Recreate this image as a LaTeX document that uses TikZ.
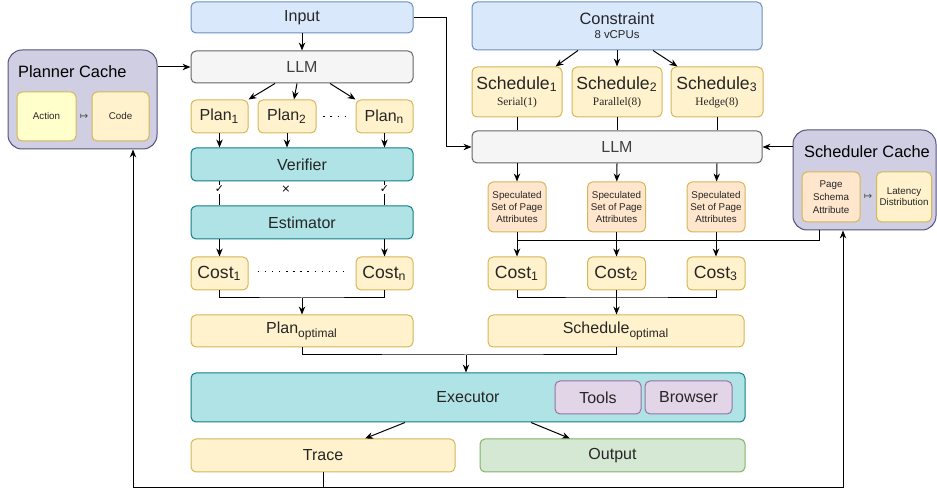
\documentclass[tikz,border=0pt]{standalone}
\usepackage{fontspec}
\setmainfont{Liberation Sans}
\newfontfamily\serfont{Liberation Serif}
\newfontfamily\symfont{DejaVu Sans}
\usetikzlibrary{positioning,arrows.meta}

\definecolor{blueF}{HTML}{DAE8FC}
\definecolor{blueD}{HTML}{6C8EBF}
\definecolor{grayF}{HTML}{F5F5F5}
\definecolor{grayD}{HTML}{666666}
\definecolor{yelF}{HTML}{FFF2CC}
\definecolor{yelD}{HTML}{D6B656}
\definecolor{tealF}{HTML}{B0E3E6}
\definecolor{tealD}{HTML}{0E8088}
\definecolor{purF}{HTML}{D0CEE2}
\definecolor{purD}{HTML}{56517E}
\definecolor{lilF}{HTML}{E1D5E7}
\definecolor{lilD}{HTML}{9673A6}
\definecolor{grnF}{HTML}{D5E8D4}
\definecolor{grnD}{HTML}{82B366}
\definecolor{orgF}{HTML}{FFE6CC}
\definecolor{lemF}{HTML}{FFFFCC}

\newcommand{\bigtxt}{\fontsize{8}{9}\selectfont}
\newcommand{\costtxt}{\fontsize{8.8}{9}\selectfont}
\newcommand{\tinytxt}{\fontsize{4.9}{6}\selectfont}
\newcommand{\subtxt}{\fontsize{5.7}{7}\selectfont}

\tikzset{
  box/.style={draw, line width=0.5pt, rounded corners=2.5pt, inner sep=0pt, align=center, font=\bigtxt, text=black!85},
  sz/.style 2 args={minimum width=#1*0.5pt, minimum height=#2*0.5pt},
  inbox/.style={box, fill=blueF, draw=blueD},
  llm/.style={box, fill=grayF, draw=grayD, text=black!75},
  res/.style={box, fill=yelF, draw=yelD},
  proc/.style={box, fill=tealF, draw=tealD},
  cache/.style={box, fill=purF, draw=purD, rounded corners=7pt},
  spec/.style={box, fill=orgF, draw=yelD, font=\tinytxt},
  tool/.style={box, fill=lilF, draw=lilD},
  outbox/.style={box, fill=grnF, draw=grnD},
  arr/.style={-{Stealth[length=4pt,width=3.2pt]}, line width=0.5pt},
  ln/.style={line width=0.5pt},
  dotrow/.style={line width=0.7pt, dash pattern=on 0.7pt off 2.85pt},
  mk/.style={fill=white, inner sep=0.5pt, font=\symfont\fontsize{5.5}{6}\selectfont},
}

\begin{document}
\begin{tikzpicture}[x=0.5pt,y=-0.5pt]
  \useasboundingbox (0,0) rectangle (937,490);

  % planner side
  \node[inbox, sz={222}{31}]  (input)   at (302,17.5)  {Input};
  \node[llm, sz={222}{32}]    (llmL)    at (302,67)    {LLM};
  \node[res, sz={57}{33}]     (plan1)   at (219.5,116.5) {Plan\textsubscript{1}};
  \node[res, sz={58}{33}, right=4.5pt of plan1] (plan2) {Plan\textsubscript{2}};
  \node[res, sz={57}{33}]     (plann)   at (384.5,116.5) {Plan\textsubscript{n}};
  \node[proc, sz={222}{33}]   (ver)     at (302,164.5) {Verifier};
  \node[proc, sz={222}{33}]   (est)     at (302,222.5) {Estimator};
  \node[res, sz={57}{33}, font=\costtxt] (cost1) at (219.5,273.5) {Cost\textsubscript{1}};
  \node[res, sz={57}{33}, font=\costtxt] (costn) at (384.5,273.5) {Cost\textsubscript{n}};
  \node[res, sz={222}{32}]    (planopt) at (302,331)   {Plan\textsubscript{optimal}};

  \node[cache, sz={149}{99}]  (pcache)  at (82.5,99.5) {};
  \node[anchor=west, font=\fontsize{8.2}{9}\selectfont] (ptitle) at (11,72) {Planner Cache};
  \node[box, fill=lemF, draw=yelD, sz={59}{49}, font=\tinytxt] (action) at (46.5,116.5) {Action};
  \node[res, sz={57}{49}, font=\tinytxt] (code) at (120.5,116.5) {Code};
  \node[font=\symfont\fontsize{5}{6}\selectfont, text=black!70] (pmap) at (84,117) {↦};

  % scheduler side
  \node[inbox, sz={290}{48}]  (constr)  at (617,26) {\fontsize{8.2}{9}\selectfont Constraint\\[-2pt]{\subtxt 8 vCPUs}};
  \node[res, sz={90}{50}, font=\costtxt] (s1) at (517,92) {Schedule\textsubscript{1}\\[-1pt]{\serfont\subtxt Serial(1)}};
  \node[res, sz={90}{50}, font=\costtxt, right=4.5pt of s1] (s2) {Schedule\textsubscript{2}\\[-1pt]{\serfont\subtxt Parallel(8)}};
  \node[res, sz={92}{50}, font=\costtxt, right=4pt of s2] (s3) {Schedule\textsubscript{3}\\[-1pt]{\serfont\subtxt Hedge(8)}};
  \node[llm, sz={290}{32}]    (llmR)    at (617,147) {LLM};
  \foreach \i/\x in {1/517,2/616.5,3/716}{
    \node[spec, sz={58}{50}] (sp\i) at (\x,207) {Speculated\\Set of Page\\Attributes};
    \node[res, sz={58}{33}, font=\costtxt] (c\i) at (\x,273.5) {Cost\textsubscript{\i}};
  }
  \node[res, sz={256}{32}]    (schedopt) at (616,331) {Schedule\textsubscript{optimal}};

  \node[cache, sz={143}{100}] (scache)  at (864.5,180) {};
  \node[anchor=west, font=\fontsize{8.2}{9}\selectfont] (stitle) at (797,152) {Scheduler Cache};
  \node[spec, sz={58}{50}, font=\fontsize{4.9}{6.5}\selectfont] (page) at (831,197) {Page\\Schema\\Attribute};
  \node[res, sz={55}{50}, font=\fontsize{4.9}{5.5}\selectfont] (lat) at (904,197) {Latency\\Distribution};
  \node[font=\symfont\fontsize{5}{6}\selectfont, text=black!70] (smap) at (868,197) {↦};

  % execution
  \node[proc, sz={554}{49}]   (exec)    at (468,397.5) {Executor};
  \node[tool, sz={86}{33}]    (tools)   at (598,397.5) {Tools};
  \node[tool, sz={87}{33}]    (browser) at (688.5,397.5) {Browser};
  \node[res, sz={264}{33}]    (trace)   at (323,455.5) {Trace};
  \node[outbox, sz={265}{33}] (output)  at (612.5,455.5) {Output};

  \coordinate (jl) at (302,298);
  \coordinate (jr) at (616.5,298);
  \coordinate (je) at (466,355);
  \coordinate (fb) at (517,241);
  \coordinate (fbot) at (323,488);

  % planner edges
  \draw[arr] (input) -- (llmL);
  \draw[arr] (pcache.east |- llmL.west) -- (llmL.west);
  \draw[arr] ([xshift=-13.5pt]llmL.south) -- (plan1.north east);
  \draw[arr] ([xshift=-2.5pt]llmL.south) -- ([xshift=3.5pt]plan2.north);
  \draw[arr] ([xshift=14pt]llmL.south) -- (plann.north west);
  \draw[dotrow] (323.3,116.7) -- (347,116.7);
  \foreach \p in {plan1,plan2,plann} \draw[arr] (\p) -- (\p |- ver.north);
  \draw[ln] (plan1 |- ver.south) -- node[mk, pos=0.32] {✓} (plan1 |- est.north);
  \draw[ln] (plann |- ver.south) -- node[mk, pos=0.32] {✓} (plann |- est.north);
  \node[mk] (xmark) at (286,189) {×};
  \foreach \p in {cost1,costn} \draw[arr] (\p |- est.south) -- (\p);
  \draw[dotrow] (257.7,271.7) -- (344.5,271.7);
  \draw[ln] (cost1.south) |- (jl) -| (costn.south);
  \draw[arr] (jl) -- (planopt);

  % scheduler edges
  \draw[arr] ([xshift=-19.5pt]constr.south) -- ([xshift=-3.5pt]s1.north east);
  \draw[arr] (constr.south -| s2.north) -- (s2.north);
  \draw[arr] ([xshift=18pt]constr.south) -- ([xshift=3.5pt]s3.north west);
  \draw[arr] (input.east) -| ([xshift=-12.5pt]llmR.west) -- (llmR.west);
  \draw[arr] (scache.west |- llmR) -- (llmR.east);
  \foreach \i in {1,2,3}{
    \draw[ln] (s\i) -- (s\i |- llmR.north);
    \draw[arr] (s\i |- llmR.south) -- (sp\i);
    \draw[arr] (sp\i) -- (c\i);
  }
  \draw[ln] ([xshift=-22.75pt]scache.south) |- (fb);
  \draw[ln] (c1.south) |- (jr) -| (c3.south);
  \draw[arr] (c2.south) -- (c2 |- schedopt.north);

  % execution edges
  \draw[ln] (planopt.south) |- (je) -| (schedopt.south);
  \draw[arr] (je) -- (je |- exec.north);
  \draw[arr] ([xshift=-31.5pt]exec.south) -- ([xshift=21pt]trace.north);
  \draw[arr] ([xshift=31.5pt]exec.south) -- ([xshift=-21.25pt]output.north);
  \draw[ln] (trace.south) -- (fbot);
  \draw[arr] (fbot) -| ([xshift=25.25pt]pcache.south);
  \draw[arr] (fbot) -| ([xshift=-10.75pt]scache.south);
\end{tikzpicture}
\end{document}
